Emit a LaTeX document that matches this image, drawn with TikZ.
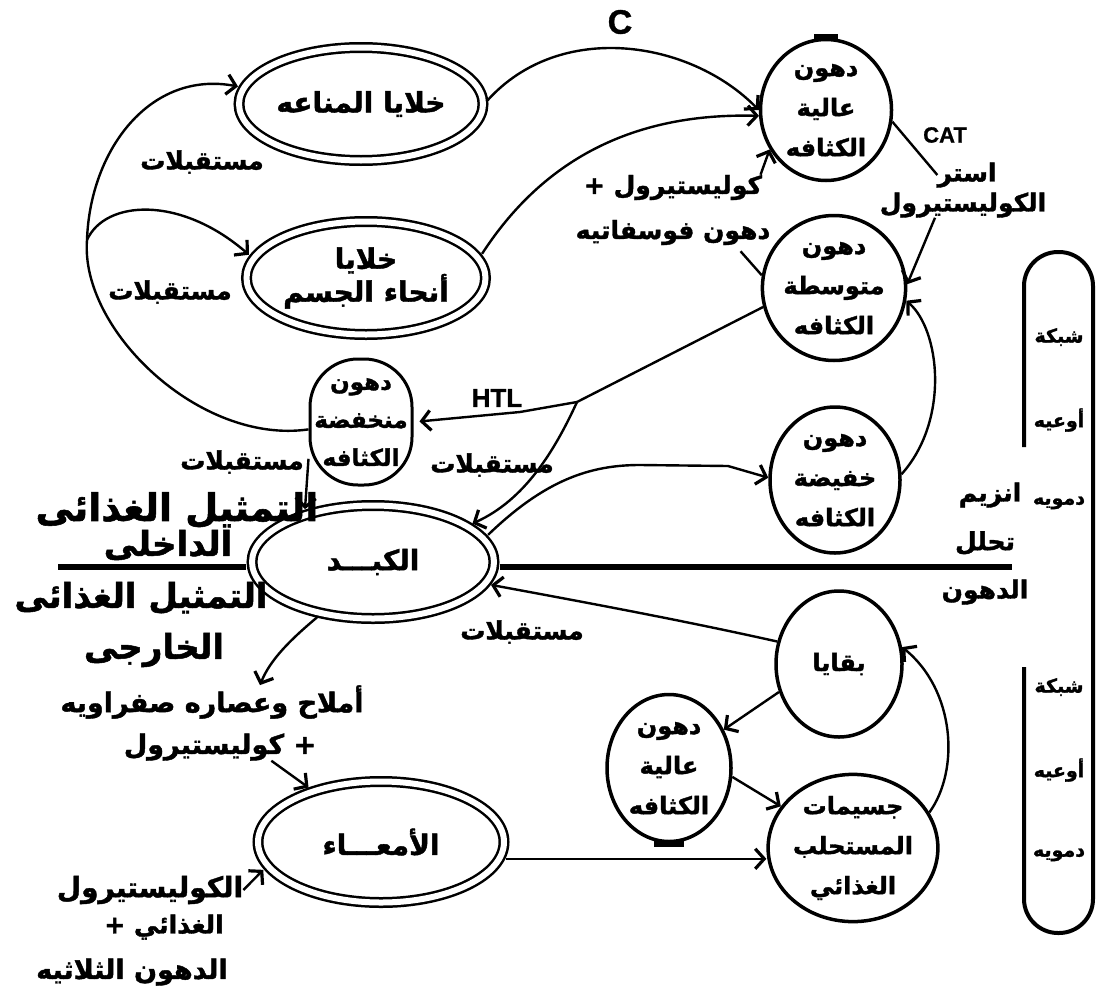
\documentclass[tikz,border=0pt]{standalone}
\usepackage{fontspec}
\setmainfont{DejaVu Sans}
\newfontfamily\arabicfont[Script=Arabic, BoldFeatures={FakeBold=1.5}]{DejaVu Sans}
\newfontfamily\latfont[BoldFeatures={FakeBold=1}]{Liberation Sans}
\TeXXeTstate=1
\usetikzlibrary{positioning,shapes.geometric,arrows.meta}
\newcommand{\ar}[1]{\beginR #1\endR}

\tikzset{
  cell/.style={ellipse, draw, double, line width=2.5pt, double distance=6pt, inner sep=0pt, align=center,
    font=\arabicfont\bfseries\fontsize{28}{33}\selectfont},
  lipo/.style={ellipse, draw, line width=3.5pt, inner sep=0pt, align=center,
    font=\arabicfont\bfseries\fontsize{24}{40}\selectfont},
  lbl/.style={inner sep=0pt, align=center, font=\arabicfont\bfseries\fontsize{25}{45}\selectfont},
  biglbl/.style={inner sep=0pt, font=\arabicfont\bfseries\fontsize{38}{40}\selectfont},
  barlbl/.style={inner sep=0pt, font=\arabicfont\bfseries\fontsize{19}{20}\selectfont},
  latlbl/.style={inner sep=0pt, font=\latfont\bfseries\fontsize{26}{28}\selectfont},
  link/.style={line width=2.4pt},
  hd/.style={-{Straight Barb[length=9pt,width=20pt,line width=3.2pt]}},
  midline/.style={line width=6pt}
}

\begin{document}
\begin{tikzpicture}[x=1pt,y=-1pt]
\useasboundingbox (0,0) rectangle (1097,1001);

\node[cell, minimum width=244pt, minimum height=113pt] (imm) at (361,104) {\ar{خلايا المناعه}};
\node[cell, minimum width=239pt, minimum height=113pt] (body) at (366,278) {\ar{خلايا}\\\ar{أنحاء الجسم}};
\node[cell, minimum width=242pt, minimum height=113pt] (liver) at (373,562) {\ar{الكبـــد}};
\node[cell, minimum width=246pt, minimum height=121pt] (gut) at (381,842) {\ar{الأمعـــاء}};

\node[draw, line width=3pt, rounded corners=48pt, minimum width=102pt, minimum height=126pt, inner sep=0pt, align=center,
  font=\arabicfont\bfseries\fontsize{23}{38}\selectfont] (ldl) at (361,422) {\ar{دهون}\\\ar{منخفضة}\\\ar{الكثافه}};

\node[lipo, minimum width=131pt, minimum height=141pt] (hdla) at (826,110) {\ar{دهون}\\\ar{عالية}\\\ar{الكثافه}};
\node[lipo, minimum width=134pt, minimum height=145pt] (idl) at (834,288) {\ar{دهون}\\\ar{متوسطة}\\\ar{الكثافه}};
\node[lipo, minimum width=130pt, minimum height=146pt] (vldl) at (835,480) {\ar{دهون}\\\ar{خفيضة}\\\ar{الكثافه}};
\node[lipo, minimum width=126pt, minimum height=146pt] (rem) at (839,664) {\ar{بقايا}};
\node[lipo, minimum width=124pt, minimum height=147pt] (hdlb) at (669,768) {\ar{دهون}\\\ar{عالية}\\\ar{الكثافه}};
\node[lipo, minimum width=135pt, minimum height=146pt] (chylo) at (853,848) {\ar{جسيمات}\\\ar{المستحلب}\\\ar{الغذائي}};

\node[latlbl, font=\latfont\bfseries\fontsize{34}{36}\selectfont] (lC) at (620,22) {C};
\node[latlbl, font=\latfont\bfseries\fontsize{22}{24}\selectfont] (lCAT) at (945,135) {CAT};
\node[latlbl] (lHTL) at (497,398) {HTL};

\node[lbl] (lChol) at (673,210) {\ar{كوليستيرول +}\\\ar{دهون فوسفاتيه}};
\node[lbl] (lEst1) at (967,175) {\ar{استر}};
\node[lbl] (lEst2) at (963,205) {\ar{الكوليستيرول}};

\node[lbl] (rec1) at (202,162) {\ar{مستقبلات}};
\node[lbl] (rec2) at (170,292) {\ar{مستقبلات}};
\node[lbl] (rec3) at (242,462) {\ar{مستقبلات}};
\node[lbl] (rec4) at (492,465) {\ar{مستقبلات}};
\node[lbl] (rec5) at (522,632) {\ar{مستقبلات}};

\node[biglbl] (lInt1) at (177,510) {\ar{التمثيل الغذائى}};
\node[biglbl, font=\arabicfont\bfseries\fontsize{34}{36}\selectfont] (lInt2) at (168,545) {\ar{الداخلى}};
\node[biglbl, font=\arabicfont\bfseries\fontsize{34}{36}\selectfont] (lExt1) at (141,598) {\ar{التمثيل الغذائى}};
\node[biglbl, font=\arabicfont\bfseries\fontsize{34}{36}\selectfont] (lExt2) at (154,650) {\ar{الخارجى}};

\node[lbl, font=\arabicfont\bfseries\fontsize{27}{30}\selectfont] (lBile1) at (212,702) {\ar{أملاح وعصاره صفراويه}};
\node[lbl, font=\arabicfont\bfseries\fontsize{27}{30}\selectfont] (lBile2) at (220,747) {\ar{+ كوليستيرول}};
\node[lbl, font=\arabicfont\bfseries\fontsize{28}{30}\selectfont] (lDiet1) at (150,890) {\ar{الكوليستيرول}};
\node[lbl] (lDiet2) at (164,927) {\ar{الغذائي +}};
\node[lbl, font=\arabicfont\bfseries\fontsize{27}{30}\selectfont] (lDiet3) at (132,972) {\ar{الدهون الثلاثيه}};

\node[lbl] (lEnz1) at (990,495) {\ar{انزيم}};
\node[lbl] (lEnz2) at (985,543) {\ar{تحلل}};
\node[lbl] (lEnz3) at (985,592) {\ar{الدهون}};

\node[barlbl] (net1) at (1059,337) {\ar{شبكة}};
\node[barlbl] (ves1) at (1059,420) {\ar{أوعيه}};
\node[barlbl] (bld1) at (1059,503) {\ar{دمويه}};
\node[barlbl] (net2) at (1059,687) {\ar{شبكة}};
\node[barlbl] (ves2) at (1059,770) {\ar{أوعيه}};
\node[barlbl] (bld2) at (1059,855) {\ar{دمويه}};

\draw[line width=4pt, rounded corners=34pt] (1024,447) -- (1024,252) -- (1093,252) -- (1093,933) -- (1024,933) -- (1024,667);

\coordinate (ml) at (58,567);
\coordinate (mr) at (1012,567);
\draw[midline, shorten >=5pt] (ml) -- (ml -| liver.west);
\draw[midline, shorten <=5pt] (liver.east |- ml) -- (mr);

\draw[line width=7pt] ([xshift=-12pt]hdla.north) -- ([xshift=12pt]hdla.north);
\draw[line width=7pt] ([xshift=-15pt]hdlb.south) -- ([xshift=15pt]hdlb.south);

\coordinate (br) at (87,240);
\coordinate (jn) at (577,402);

\draw[link] (ldl.188) .. controls (200,445) and (80,330) .. (br);
\draw[link,hd,shorten >=5pt] (br) .. controls (90,150) and (150,70) .. (imm.172);
\draw[link,hd,shorten >=5pt] (br) .. controls (105,200) and (180,195) .. (body.170);

\draw[link,hd,shorten <=5pt] (imm.east) .. controls (560,20) and (690,40) .. (hdla.west);
\draw[link,hd,shorten <=5pt] (body.10) .. controls (530,180) and (610,112) .. (hdla.185);

\draw[link] (idl.170) -- ([xshift=-30pt,yshift=-6pt]lChol.south east);
\draw[link,hd] ([xshift=-10pt]lChol.north east) -- (hdla.215);

\draw[link] (hdla.-10) -- (lEst1.west);
\draw[link,hd] ([xshift=-28pt]lEst2.south) -- (idl.3);
\draw[link,hd] (vldl.5) .. controls (950,420) and (940,330) .. (idl.-10);

\draw[link] (idl.195) -- (jn);
\draw[link,hd,shorten >=6pt] (jn) -- (520,412) -- (ldl.east);
\draw[link,hd,shorten >=5pt] (jn) .. controls (555,450) and (525,500) .. (liver.21);

\draw[link,hd,shorten <=5pt] (liver.12) .. controls (545,480) and (590,465) .. (640,465) -- (728,466) -- (vldl.178);
\draw[link,hd,shorten >=5pt] (ldl.215) -- (liver.145);

\draw[link,hd,shorten >=5pt] (rem.160) .. controls (690,622) and (600,605) .. (liver.-11);
\draw[link,hd] (rem.205) -- (hdlb.35);
\draw[link,hd] (hdlb.-8) -- (chylo.150);
\draw[link,hd,shorten <=5pt] (gut.-8) -- (gut.-8 -| chylo.west);
\draw[link,hd] (chylo.25) .. controls (960,770) and (955,690) .. (rem.15);

\draw[link,hd,shorten <=5pt] (liver.-135) .. controls (290,640) and (270,660) .. ([xshift=48pt]lBile1.north);
\draw[link,hd,shorten >=5pt] ([xshift=-45pt]lBile2.south east) -- (gut.143);
\draw[link,hd,shorten >=5pt] (lDiet1.east) -- (gut.192);

\end{tikzpicture}
\end{document}
